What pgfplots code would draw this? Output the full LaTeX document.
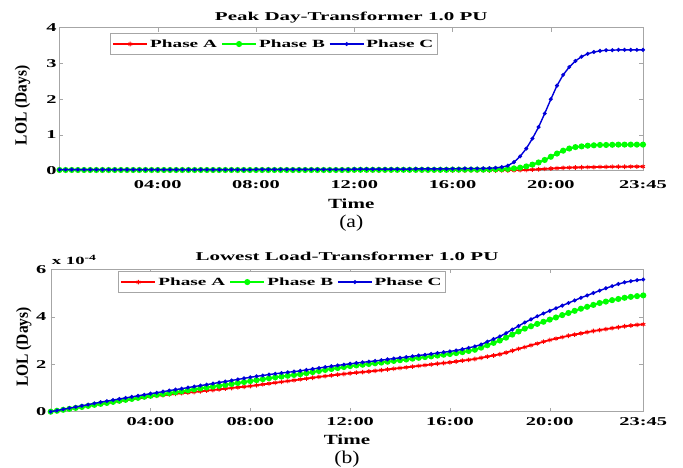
\documentclass[border=0pt]{standalone}
\usepackage{pgfplots}
\pgfplotsset{compat=1.18}
\usepackage{pgfplotstable}
\usepackage{fontspec}
\setmainfont{Liberation Serif}
\newfontfamily\sfont{Liberation Serif}[FakeStretch=1.75]
\newfontfamily\tfont{Liberation Serif}[FakeStretch=1.7]
\newfontfamily\xlfont{Liberation Serif}[FakeStretch=1.5]
\newfontfamily\capfont{Liberation Serif}[FakeStretch=1.2]

\pgfplotstableread{
i A B C
0 0 0.02 0.03
1 0 0.02 0.03
2 0 0.02 0.03
3 0 0.02 0.03
4 0 0.02 0.03
5 0 0.02 0.03
6 0 0.02 0.03
7 0 0.02 0.03
8 0 0.02 0.03
9 0 0.02 0.03
10 0 0.02 0.03
11 0 0.02 0.03
12 0 0.02 0.03
13 0 0.02 0.03
14 0 0.02 0.03
15 0 0.02 0.03
16 0 0.02 0.03
17 0 0.02 0.03
18 0 0.02 0.03
19 0 0.02 0.03
20 0 0.02 0.03
21 0 0.02 0.03
22 0 0.02 0.03
23 0 0.02 0.03
24 0 0.02 0.03
25 0 0.02 0.03
26 0 0.02 0.03
27 0 0.02 0.03
28 0 0.02 0.03
29 0 0.02 0.03
30 0 0.02 0.03
31 0 0.02 0.03
32 0 0.02 0.035
33 0 0.02 0.035
34 0 0.02 0.035
35 0 0.02 0.035
36 0 0.02 0.035
37 0 0.02 0.035
38 0 0.02 0.035
39 0 0.02 0.035
40 0 0.02 0.035
41 0 0.02 0.035
42 0 0.02 0.035
43 0 0.02 0.035
44 0 0.02 0.035
45 0 0.02 0.035
46 0 0.02 0.035
47 0 0.02 0.035
48 0 0.025 0.045
49 0 0.025 0.045
50 0 0.025 0.045
51 0 0.025 0.045
52 0 0.025 0.045
53 0 0.025 0.045
54 0 0.025 0.045
55 0 0.025 0.045
56 0 0.025 0.045
57 0 0.025 0.045
58 0 0.025 0.05
59 0 0.025 0.05
60 0 0.025 0.05
61 0 0.025 0.05
62 0 0.025 0.05
63 0 0.025 0.05
64 0 0.03 0.055
65 0 0.03 0.055
66 0 0.03 0.06
67 0 0.03 0.06
68 0 0.03 0.06
69 0 0.03 0.065
70 0 0.035 0.07
71 0 0.04 0.08
72 0.002 0.045 0.10
73 0.005 0.05 0.14
74 0.01 0.065 0.24
75 0.015 0.085 0.40
76 0.02 0.12 0.62
77 0.03 0.17 0.90
78 0.04 0.23 1.22
79 0.05 0.30 1.60
80 0.06 0.39 2.00
81 0.07 0.48 2.38
82 0.08 0.56 2.68
83 0.085 0.62 2.90
84 0.09 0.66 3.07
85 0.095 0.68 3.19
86 0.10 0.70 3.27
87 0.10 0.71 3.32
88 0.105 0.72 3.35
89 0.105 0.72 3.37
90 0.11 0.725 3.37
91 0.11 0.73 3.38
92 0.11 0.73 3.38
93 0.115 0.73 3.38
94 0.115 0.73 3.38
95 0.115 0.73 3.38
}\peak

\pgfplotstableread{
i A B C
0 0 0 0
1 0.04 0.04 0.05
2 0.08 0.08 0.10
3 0.12 0.12 0.15
4 0.16 0.16 0.20
5 0.20 0.20 0.25
6 0.24 0.245 0.30
7 0.28 0.29 0.35
8 0.32 0.33 0.40
9 0.36 0.37 0.445
10 0.40 0.415 0.49
11 0.44 0.46 0.535
12 0.48 0.50 0.58
13 0.52 0.54 0.625
14 0.56 0.585 0.67
15 0.60 0.63 0.715
16 0.64 0.67 0.76
17 0.67 0.71 0.80
18 0.695 0.745 0.845
19 0.72 0.78 0.89
20 0.75 0.82 0.93
21 0.78 0.86 0.97
22 0.805 0.90 1.015
23 0.83 0.94 1.06
24 0.86 0.98 1.10
25 0.89 1.02 1.14
26 0.915 1.055 1.185
27 0.94 1.09 1.23
28 0.97 1.13 1.27
29 1.00 1.17 1.315
30 1.025 1.21 1.36
31 1.05 1.25 1.405
32 1.08 1.29 1.45
33 1.115 1.33 1.49
34 1.15 1.37 1.525
35 1.185 1.41 1.565
36 1.22 1.45 1.60
37 1.255 1.48 1.63
38 1.29 1.515 1.66
39 1.325 1.55 1.69
40 1.36 1.58 1.72
41 1.395 1.625 1.76
42 1.43 1.67 1.80
43 1.465 1.715 1.84
44 1.50 1.76 1.88
45 1.53 1.80 1.915
46 1.56 1.84 1.95
47 1.59 1.88 1.985
48 1.62 1.92 2.02
49 1.645 1.95 2.05
50 1.67 1.98 2.08
51 1.695 2.01 2.11
52 1.72 2.04 2.14
53 1.75 2.07 2.17
54 1.78 2.105 2.205
55 1.81 2.14 2.24
56 1.84 2.17 2.27
57 1.87 2.20 2.30
58 1.90 2.235 2.335
59 1.93 2.27 2.37
60 1.96 2.30 2.40
61 1.99 2.33 2.435
62 2.02 2.365 2.47
63 2.05 2.40 2.505
64 2.08 2.43 2.54
65 2.115 2.47 2.58
66 2.15 2.51 2.63
67 2.185 2.56 2.69
68 2.22 2.61 2.75
69 2.27 2.70 2.83
70 2.32 2.80 2.95
71 2.37 2.90 3.06
72 2.42 3.00 3.17
73 2.49 3.12 3.31
74 2.57 3.25 3.46
75 2.65 3.38 3.61
76 2.72 3.50 3.76
77 2.80 3.60 3.89
78 2.87 3.70 4.02
79 2.95 3.79 4.14
80 3.02 3.88 4.25
81 3.08 3.97 4.36
82 3.14 4.07 4.47
83 3.20 4.16 4.58
84 3.25 4.25 4.69
85 3.30 4.34 4.80
86 3.35 4.42 4.90
87 3.40 4.50 5.00
88 3.44 4.58 5.10
89 3.48 4.64 5.20
90 3.52 4.70 5.29
91 3.56 4.75 5.38
92 3.60 4.80 5.45
93 3.63 4.84 5.50
94 3.66 4.87 5.54
95 3.68 4.90 5.57
}\lowest

\definecolor{phA}{rgb}{1,0,0}
\definecolor{phB}{rgb}{0,1,0}
\definecolor{phC}{rgb}{0,0,0.85}

\tikzset{
  ylab/.style={font=\bfseries\fontsize{15.5}{15.5}\selectfont, anchor=center, xscale=1.1, rotate=90},
}

\pgfplotsset{
  lolstyle/.style={
    scale only axis,
    clip mode=individual,
    xmin=0, xmax=95,
    xtick={16,32,48,64,80,95},
    xticklabels={04:00,08:00,12:00,16:00,20:00,23:45},
    tick align=inside,
    major tick length=4pt,
    axis line style={gray!70},
    every tick/.style={gray!70},
    xticklabel style={font=\tfont\bfseries\fontsize{12}{12}\selectfont, anchor=center},
    yticklabel style={font=\tfont\bfseries\fontsize{12}{12}\selectfont, anchor=center},
    /pgf/number format/assume math mode=true,
    xlabel={Time},
    xlabel style={font=\xlfont\bfseries\fontsize{14}{14}\selectfont, at={(axis description cs:0.5,0)}, anchor=center},
    title style={font=\sfont\bfseries\fontsize{12}{12}\selectfont, at={(axis description cs:0.5,1)}, anchor=center},
    legend columns=3,
    legend style={draw=gray!70, font=\sfont\bfseries\fontsize{11}{11}\selectfont, inner xsep=2pt, inner ysep=4pt,
      /tikz/every even column/.append style={column sep=2pt}},
    legend image code/.code={\draw[mark repeat=2, mark phase=2, ##1] plot coordinates {(0cm,0cm) (0.6cm,0cm) (1.2cm,0cm)};},
  },
  pA/.style={color=phA, line width=1.8pt, mark=asterisk, mark size=2.3pt, mark options={line width=0.9pt}},
  pB/.style={color=phB, line width=2pt, mark=*, mark size=2pt},
  pC/.style={color=phC, line width=1.4pt, mark=*, mark size=1.2pt},
}

\begin{document}
\begin{tikzpicture}
\useasboundingbox (0,0) rectangle (683pt,468pt);
\begin{axis}[lolstyle,
  at={(59.5pt,297.3pt)}, anchor=south west,
  width=583.5pt, height=143pt,
  ymin=0, ymax=4, ytick={0,1,2,3,4},
  xticklabel style={yshift=-14pt},
  yticklabel style={xshift=-8pt},
  xlabel style={yshift=-33pt},
  title={Peak Day-Transformer 1.0 PU},
  title style={yshift=4.5pt},
  legend style={at={(0.0866,0.961)}, anchor=north west},
]
\addplot[pA] table[x=i,y=A] {\peak};
\addplot[pB] table[x=i,y=B] {\peak};
\addplot[pC] table[x=i,y=C] {\peak};
\legend{Phase A,Phase B,Phase C}
\node[xshift=-37pt, yshift=-6pt, ylab] at (rel axis cs:0,0.5) {LOL (Days)};
\node[font=\capfont\fontsize{18}{18}\selectfont, anchor=center] at (rel axis cs:0.5,0) [yshift=-52pt] {(a)};
\end{axis}

\begin{axis}[lolstyle,
  at={(50.7pt,56.3pt)}, anchor=south west,
  width=592.6pt, height=142.4pt,
  ymin=0, ymax=6, ytick={0,2,4,6},
  xticklabel style={yshift=-10pt},
  yticklabel style={xshift=-9.5pt},
  xlabel style={yshift=-28.5pt},
  title={Lowest Load-Transformer 1.0 PU},
  title style={yshift=7pt},
  legend style={at={(0.114,0.986)}, anchor=north west},
]
\addplot[pA] table[x=i,y=A] {\lowest};
\addplot[pB] table[x=i,y=B] {\lowest};
\addplot[pC] table[x=i,y=C] {\lowest};
\legend{Phase A,Phase B,Phase C}
\node[xshift=-27pt, yshift=-6.5pt, ylab] at (rel axis cs:0,0.5) {LOL (Days)};
\node[font=\tfont\bfseries\fontsize{11}{11}\selectfont, anchor=south west, inner sep=0pt] at (rel axis cs:0,1) [yshift=4pt, xshift=1pt] {x 10\raisebox{4.5pt}{\fontsize{8}{8}\selectfont -4}};
\node[font=\capfont\fontsize{18}{18}\selectfont, anchor=center] at (rel axis cs:0.5,0) [yshift=-47pt] {(b)};
\end{axis}
\end{tikzpicture}
\end{document}
